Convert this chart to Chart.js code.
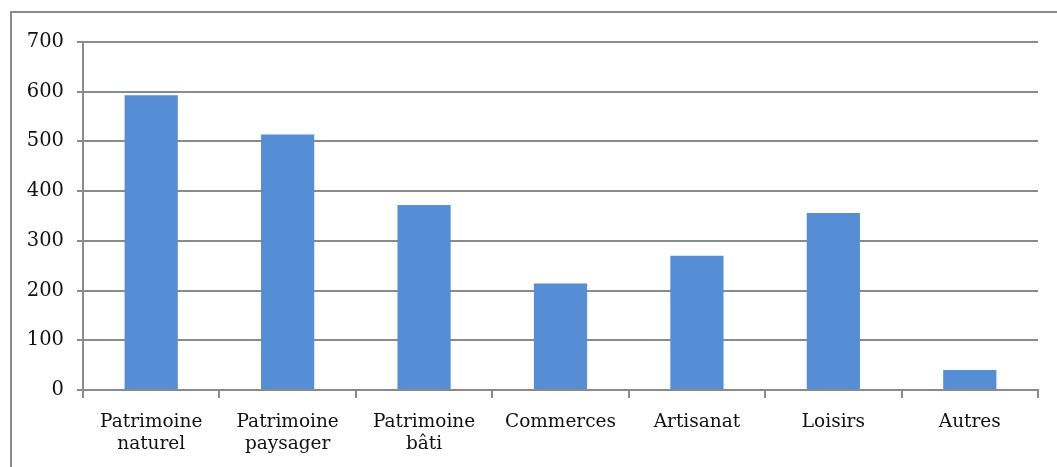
<!DOCTYPE html>
<html>
<head>
<meta charset="utf-8">
<script src="https://cdn.jsdelivr.net/npm/chart.js@4"></script>
<style>
  html, body { margin: 0; padding: 0; background: #fff; }
  #wrap { position: relative; width: 1057px; height: 467px; overflow: hidden; }
  #frame { position: absolute; left: 10px; top: 11px; right: -10px; bottom: -10px;
           border-left: 2px solid #8a8a8a; border-top: 2px solid #8a8a8a; }
  canvas { position: absolute; left: 0; top: 0; }
</style>
</head>
<body>
<div id="wrap">
  <div id="frame"></div>
  <canvas id="chart" width="1057" height="467"></canvas>
</div>
<script>
// Categories and counts
const categories = [
  ['Patrimoine', 'naturel'],
  ['Patrimoine', 'paysager'],
  ['Patrimoine', 'bâti'],
  'Commerces',
  'Artisanat',
  'Loisirs',
  'Autres'
];
const counts = [593, 514, 372, 214, 270, 356, 40];
const yTicks = [0, 100, 200, 300, 400, 500, 600, 700];

const gridColor = '#8a8a8a';

new Chart(document.getElementById('chart').getContext('2d'), {
  type: 'bar',
  data: {
    labels: categories,
    datasets: [{
      data: counts,
      backgroundColor: '#558ed5',
      borderWidth: 0,
      barPercentage: 0.39,
      categoryPercentage: 1
    }]
  },
  options: {
    responsive: false,
    animation: false,
    layout: { padding: { left: 0, top: 42, right: 19, bottom: 0 } },
    plugins: { legend: { display: false }, tooltip: { enabled: false } },
    scales: {
      x: {
        grid: { drawOnChartArea: false, color: gridColor, lineWidth: 2, tickLength: 8 },
        border: { color: gridColor, width: 2 },
        ticks: { color: '#111', font: { family: 'DejaVu Serif', size: 18.5, lineHeight: 1.2 },
                 padding: 13, maxRotation: 0 },
        afterFit: s => { s.height = 77; }
      },
      y: {
        min: 0,
        max: 700,
        afterBuildTicks: s => { s.ticks = yTicks.map(v => ({ value: v })); },
        grid: { color: gridColor, lineWidth: 2, tickLength: 6 },
        border: { color: gridColor, width: 2 },
        ticks: { color: '#111', font: { family: 'DejaVu Serif', size: 19.5 }, padding: 13 },
        afterFit: s => { s.width = 83; }
      }
    }
  }
});
</script>
</body>
</html>
